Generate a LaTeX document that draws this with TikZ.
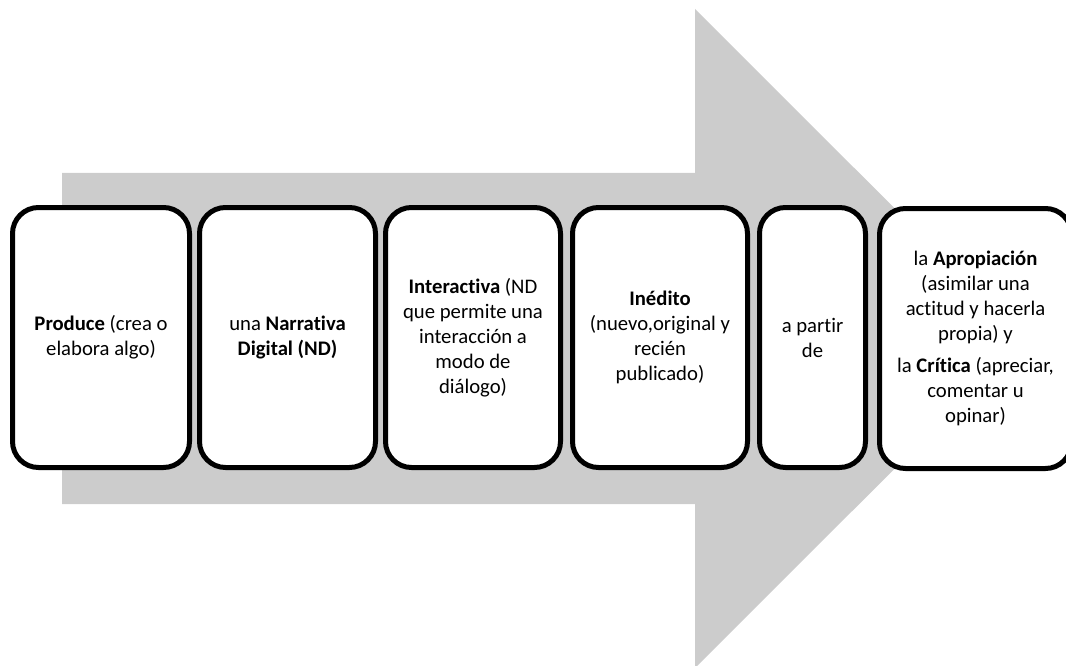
\documentclass[tikz,border=0pt]{standalone}
\usepackage{fontspec}
\setmainfont{Carlito}[Ligatures={NoCommon}]
\begin{document}
\begin{tikzpicture}[x=1pt,y=-1pt,
  stepbox/.style={draw=black,line width=5pt,fill=white,rounded corners=26pt,
    minimum height=260pt,inner sep=0pt,align=center,
    font=\fontsize{20.7pt}{25pt}\selectfont},
  arrowfill/.style={fill=black!20,draw=none}]
\clip (0,0) rectangle (1066,666);
\path[use as bounding box] (0,0) rectangle (1066,666);
% big arrow
\fill[arrowfill] (62,173) -- (695,173) -- (695,9) -- (1025,338.5) -- (695,668) -- (695,504) -- (62,504) -- cycle;
% boxes
\node[stepbox,minimum width=177pt] (b1) at (101,337.5) {\textbf{Produce} (crea o\\elabora algo)};
\node[stepbox,minimum width=176pt] (b2) at (287.5,337.5) {una \textbf{Narrativa}\\\textbf{Digital (ND)}};
\node[stepbox,minimum width=175pt] (b3) at (473,337.5) {\textbf{Interactiva} (ND\\que permite una\\interacción a\\modo de\\diálogo)};
\node[stepbox,minimum width=175pt] (b4) at (660,337.5) {\textbf{Inédito}\\(nuevo,original y\\recién\\publicado)};
\node[stepbox,minimum width=106pt] (b5) at (812.5,337.5) {a partir\\de};
\node[stepbox,minimum width=192pt] (b6) at (975.5,338.5) {la \textbf{Apropiación}\\(asimilar una\\actitud y hacerla\\propia) y\\[7pt]la \textbf{Crítica} (apreciar,\\comentar u\\opinar)};
\end{tikzpicture}
\end{document}
